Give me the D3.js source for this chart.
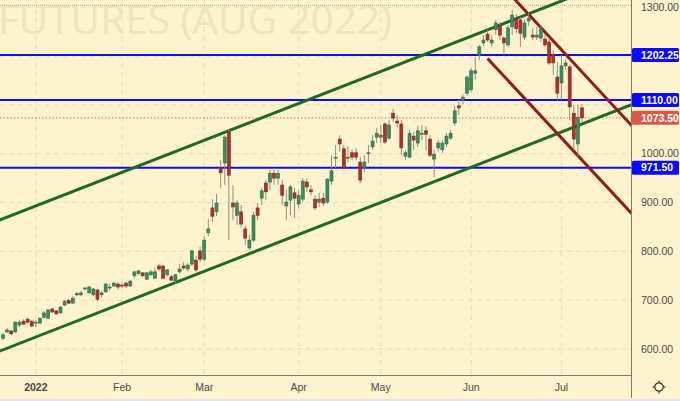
<!DOCTYPE html>
<html><head><meta charset="utf-8">
<script src="https://cdn.jsdelivr.net/npm/d3@7"></script>
<style>body{margin:0;background:#fdf3cf;}svg{display:block}</style>
</head><body>
<svg id="chart" width="680" height="401"></svg>
<script>
// ---------- DATA ----------
const firstDay = "2021-12-21", lastDay = "2022-07-08";
const holidays = ["2021-12-24", "2022-04-15"];
const open = [622,635,637,635,649,657,661,657,653,653, 665,663,682,678,674,690,700,694,713,711, 723,715,711,721,711,717,725,729,733,731, 735,729,750,754,756,743,752,745,770,770, 752,748,739,758,770,764,774,782,801,784, 838,889,881,971,981,1045,899,874,881,846, 807,823,889,909,940,942,960,950,936,893, 905,920,897,907,942,926,907,901,909,901, 944,991,1030,1010,991,1002,1002,983,971,1000, 1014,1034,1034,1061,1032,1083,1067,1061,995,993, 1036,1022,1040,1047,1030,989,1012,1008,1020,1032, 1063,1098,1110,1124,1131,1165,1202,1227,1245,1227, 1254,1262,1237,1223,1260,1278,1274,1239,1272,1243, 1239,1237,1235,1229,1202,1157,1145,1180,1178,1083, 1020,1094];
const high = [633,643,639,657,659,661,665,659,659,665, 678,682,684,680,688,700,702,709,717,719, 727,729,725,723,719,735,735,737,737,735, 737,741,760,762,758,758,762,766,774,772, 764,752,754,774,778,776,803,791,809,831, 866,907,918,987,1038,1049,936,905,895,852, 834,881,899,930,946,967,971,967,946,926, 936,930,926,950,950,936,915,920,920,950, 997,1018,1038,1018,1016,1008,1012,993,997,1018, 1038,1053,1059,1065,1069,1092,1079,1069,1008,1049, 1045,1057,1059,1057,1038,1008,1028,1028,1042,1049, 1098,1110,1122,1161,1176,1198,1223,1243,1254,1243, 1274,1270,1241,1264,1295,1286,1280,1274,1290,1258, 1260,1264,1245,1237,1213,1188,1202,1192,1182,1100, 1100,1102];
const low = [618,633,629,633,645,649,653,645,645,651, 663,661,674,670,672,688,692,692,708,708, 721,713,708,698,706,715,719,727,721,725, 725,727,745,752,748,741,750,743,760,743, 748,739,735,754,762,760,770,758,778,780, 831,860,872,930,936,823,864,854,848,813, 803,819,864,895,905,926,936,936,895,864, 874,868,889,901,922,915,885,891,893,897, 936,971,1004,967,983,987,987,940,963,981, 1008,1022,1022,1020,1028,1065,1053,997,987,991, 1008,1014,1028,1008,993,952,1004,1002,1014,1028, 1057,1079,1102,1120,1127,1151,1192,1221,1229,1219, 1243,1233,1202,1219,1243,1247,1219,1233,1262,1233, 1233,1229,1219,1182,1161,1110,1110,1172,1069,1008, 995,1065];
const close = [629,639,631,655,655,651,655,647,655,663, 674,680,676,672,686,698,694,704,711,715, 725,727,723,702,715,733,727,735,727,729, 729,739,758,760,750,756,758,758,764,745, 762,741,752,764,766,772,801,762,784,823, 846,872,899,961,1034,956,891,899,856,827, 823,874,874,924,922,960,950,960,915,901, 932,909,915,944,932,922,889,907,899,948, 965,993,1020,971,993,993,993,946,983,1002, 1026,1042,1038,1024,1059,1073,1063,1012,1002,1042, 1028,1047,1042,1040,997,999,1022,1022,1036,1042, 1088,1094,1116,1157,1170,1170,1219,1233,1233,1233, 1268,1243,1227,1258,1284,1256,1247,1268,1278,1239, 1243,1256,1223,1186,1186,1124,1180,1186,1096,1030, 1075,1073.5];
const priceTicks = [600,700,800,900,1000,1100,1200,1300];
const monthTickDates = ["2022-01-03","2022-02-01","2022-03-01","2022-04-01","2022-05-02","2022-06-01","2022-07-01"];
const monthTickLabels = ["2022","Feb","Mar","Apr","May","Jun","Jul"];
const levels = [1202.25, 1110.00, 971.50];
const lastPrice = 1073.50;
const rangeHigh = 1304;
const watermark = "FUTURES (AUG 2022)";
// trend lines: [date, price] anchors
const greenUpper = [["2021-12-21", 866.7], ["2022-06-23", 1293.3]];
const greenLower = [["2021-12-21", 598.3], ["2022-06-23", 1024.9]];
const brownUpper = [["2022-06-13", 1340.0], ["2022-07-08", 1167.5]];
const brownLower = [["2022-06-07", 1195.1], ["2022-07-08", 987.0]];

// ---------- BUILD ----------
const fmt = d3.timeFormat("%Y-%m-%d"), parse = d3.timeParse("%Y-%m-%d");
const dates = d3.timeDay.range(parse(firstDay), d3.timeDay.offset(parse(lastDay), 1))
  .filter(d => d.getDay() % 6 !== 0 && !holidays.includes(fmt(d))).map(fmt);
const candles = dates.map((d, i) => ({d, i, o: open[i], h: high[i], l: low[i], c: close[i]}));
const idx = s => dates.indexOf(s);

const W = 680, H = 401, plotR = 631, plotB = 375;
const x = d3.scaleLinear().domain([0, dates.length - 1]).range([3, 582]);
const y = d3.scaleLinear().domain([600, 1300]).range([349, 7.3]);

const svg = d3.select("#chart");
svg.append("rect").attr("width", W).attr("height", H).attr("fill", "#fdf3cf");
svg.append("defs").append("clipPath").attr("id", "plot")
  .append("rect").attr("x", 0).attr("y", 0).attr("width", plotR).attr("height", plotB);

const plot = svg.append("g").attr("clip-path", "url(#plot)");

// watermark
plot.append("text").attr("x", 392).attr("y", 34).attr("text-anchor", "end")
  .attr("font-family", "'Open Sans', sans-serif").attr("font-size", 40.5)
  .attr("fill", "#efe3c0").text(watermark);

// grid
plot.selectAll(".hg").data(priceTicks).join("line")
  .attr("x1", 0).attr("x2", plotR).attr("y1", d => y(d)).attr("y2", d => y(d))
  .attr("stroke", "#e6dcc4").attr("stroke-dasharray", "5,4");
plot.selectAll(".vg").data(monthTickDates).join("line")
  .attr("x1", d => x(idx(d))).attr("x2", d => x(idx(d))).attr("y1", 0).attr("y2", plotB)
  .attr("stroke", "#e6dcc4").attr("stroke-dasharray", "5,4");

// top dotted range line
plot.append("line").attr("x1", 0).attr("x2", plotR).attr("y1", y(rangeHigh)).attr("y2", y(rangeHigh))
  .attr("stroke", "#b8aa8a").attr("stroke-dasharray", "1,1");

// horizontal levels
plot.selectAll(".lvl").data(levels).join("line")
  .attr("x1", 0).attr("x2", plotR).attr("y1", d => y(d)).attr("y2", d => y(d))
  .attr("stroke", "#0a0aff").attr("stroke-width", 2);

// last price dotted
plot.append("line").attr("x1", 0).attr("x2", plotR).attr("y1", y(lastPrice)).attr("y2", y(lastPrice))
  .attr("stroke", "#e0705a").attr("stroke-dasharray", "1.5,2");

// trend lines
function trend(anchors, color, extendLeft) {
  const i1 = idx(anchors[0][0]), p1 = anchors[0][1], i2 = idx(anchors[1][0]), p2 = anchors[1][1];
  const k = (p2 - p1) / (i2 - i1);
  const iL = extendLeft ? x.invert(-5) : i1, iR = x.invert(plotR + 5);
  plot.append("line")
    .attr("x1", x(iL)).attr("y1", y(p1 + k * (iL - i1)))
    .attr("x2", x(iR)).attr("y2", y(p1 + k * (iR - i1)))
    .attr("stroke", color).attr("stroke-width", 3);
}
trend(greenUpper, "#1f6b1f", true);
trend(greenLower, "#1f6b1f", true);
trend(brownUpper, "#8e1c1c", false);
trend(brownLower, "#8e1c1c", false);

// candles
const cg = plot.append("g");
cg.selectAll(".wick").data(candles).join("line")
  .attr("x1", d => x(d.i)).attr("x2", d => x(d.i))
  .attr("y1", d => y(d.h)).attr("y2", d => y(d.l))
  .attr("stroke", "#8f8f86").attr("stroke-width", 1);
cg.selectAll(".body").data(candles).join("rect")
  .attr("x", d => x(d.i) - 1.5).attr("width", 3)
  .attr("y", d => y(Math.max(d.o, d.c)))
  .attr("height", d => Math.max(1, Math.abs(y(d.o) - y(d.c))))
  .attr("fill", d => d.c >= d.o ? "#3d8c5c" : "#a9332a")
  .attr("stroke", d => d.c >= d.o ? "#2b6e44" : "#86241c").attr("stroke-width", 0.6);

// axes separators
svg.append("line").attr("x1", plotR + 0.5).attr("x2", plotR + 0.5).attr("y1", 0).attr("y2", H - 3)
  .attr("stroke", "#7d7a70");
svg.append("line").attr("x1", 0).attr("x2", plotR).attr("y1", plotB + 0.5).attr("y2", plotB + 0.5)
  .attr("stroke", "#7d7a70");
svg.append("rect").attr("x", 0).attr("y", H - 2).attr("width", W).attr("height", 2).attr("fill", "#e3e6ea");

// level boxes (drawn on the price axis)
const boxes = levels.map(v => ({v, col: "#0a0aff"})).concat([{v: lastPrice, col: "#d65a48"}]);

// right axis labels (hidden where a level box covers them)
const fontF = "'Liberation Sans', Arial, sans-serif";
const visibleTicks = priceTicks.filter(t => boxes.every(b => Math.abs(y(t) - y(b.v)) > 12));
svg.selectAll(".pt").data(visibleTicks).join("text")
  .attr("x", 641).attr("y", d => y(d)).attr("dy", "0.35em")
  .attr("font-family", fontF).attr("font-size", 10.5).attr("fill", "#4a4a4a")
  .text(d => d3.format(".2f")(d));

const bg = svg.selectAll(".box").data(boxes).join("g");
bg.append("rect").attr("x", 632).attr("width", 47).attr("y", d => y(d.v) - 7).attr("height", 14)
  .attr("rx", 1.5).attr("fill", d => d.col);
bg.append("text").attr("x", 641).attr("y", d => y(d.v)).attr("dy", "0.35em")
  .attr("font-family", fontF).attr("font-size", 10.5).attr("font-weight", "bold").attr("fill", "#fff")
  .text(d => d3.format(".2f")(d.v));

// bottom axis labels
svg.selectAll(".mt").data(monthTickDates).join("text")
  .attr("x", d => x(idx(d))).attr("y", 391).attr("text-anchor", "middle")
  .attr("font-family", fontF).attr("font-size", 10.5).attr("fill", "#4a4a4a")
  .attr("font-weight", (d, i) => i === 0 ? "bold" : "normal")
  .text((d, i) => monthTickLabels[i]);

// settings icon
const ic = svg.append("g").attr("transform", "translate(659,387)").attr("stroke", "#333").attr("fill", "none");
ic.append("circle").attr("r", 4.2).attr("stroke-width", 1.2);
[[0,-4.2,0,-6.5],[0,4.2,0,6.5],[-4.2,0,-6.5,0],[4.2,0,6.5,0]].forEach(s =>
  ic.append("line").attr("x1", s[0]).attr("y1", s[1]).attr("x2", s[2]).attr("y2", s[3]).attr("stroke-width", 1.2));
</script>
</body></html>
